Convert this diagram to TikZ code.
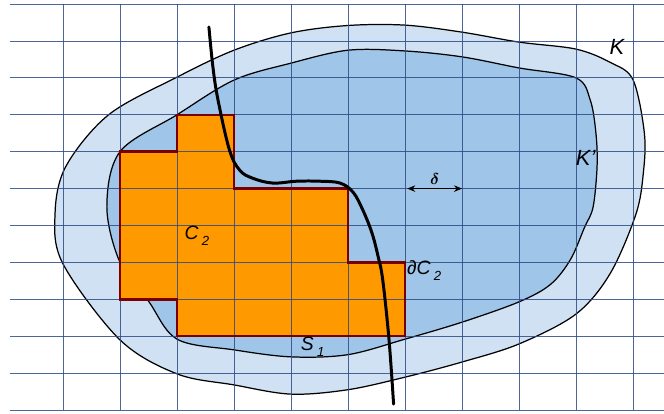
\documentclass[tikz,border=0pt]{standalone}
\usepackage{fontspec}
\usepackage{amsmath}
\setmainfont{Liberation Sans}
\usepackage{tikz}
\usetikzlibrary{arrows.meta}

\definecolor{gridblue}{RGB}{46,74,133}
\definecolor{outerblue}{RGB}{207,225,242}
\definecolor{innerblue}{RGB}{159,197,232}
\definecolor{cellorange}{RGB}{255,153,0}
\definecolor{celledge}{RGB}{122,0,0}
\newcommand{\lsub}[1]{\,\raisebox{-0.32em}{\fontsize{7.5}{8}\selectfont #1}}

\begin{document}
\begin{tikzpicture}[
    x=1.14cm, y=0.738cm,
    gridline/.style={draw=gridblue, line width=0.55pt, opacity=0.85},
    region/.style={draw=black, line width=0.7pt},
    cellfill/.style={fill=cellorange},
    celledgeline/.style={draw=celledge, line width=1.4pt, line join=miter},
    curvebold/.style={draw=black, line width=1.7pt, line cap=round},
    lbl/.style={font=\fontsize{11}{13}\selectfont\itshape, inner sep=1pt},
    biglbl/.style={font=\fontsize{12.5}{14}\selectfont\itshape, inner sep=1pt},
    arrow/.style={{Stealth[length=1.6mm, width=1.3mm]}-{Stealth[length=1.6mm, width=1.3mm]}, line width=0.6pt},
]
\useasboundingbox (-1.105,-0.108) rectangle (10.544,11.111);

\path[region, fill=outerblue] plot[smooth cycle, tension=0.55] coordinates {
    (-0.14,5.3) (0.05,6.6) (0.8,8.0) (2.0,9.02) (3.0,9.75) (4.0,10.22) (5.0,10.42)
    (6.0,10.43) (7.0,10.24) (8.0,9.97) (9.0,9.78) (9.6,9.42) (10.0,8.95) (10.2,7.5)
    (10.18,6.4) (10.05,5.3) (9.6,3.7) (9.0,2.6) (8.0,1.79) (7.0,1.3) (6.0,0.89)
    (5.0,0.55) (4.0,0.43) (3.0,0.68) (2.0,0.98) (1.0,1.9) (0.0,3.96)};
\path[region, fill=innerblue] plot[smooth cycle, tension=0.55] coordinates {
    (0.77,5.5) (1.0,7.0) (2.0,8.0) (3.0,8.94) (4.0,9.4) (5.0,9.75) (6.0,9.73)
    (7.0,9.57) (8.0,9.27) (9.0,9.0) (9.25,8.4) (9.35,7.5) (9.37,6.6) (9.3,5.5)
    (9.15,4.95) (8.9,4.07) (8.55,3.4) (8.0,2.93) (7.0,2.38) (6.0,1.92) (5.0,1.5)
    (4.0,1.44) (3.0,1.63) (2.0,1.92) (1.5,2.95) (1.0,4.0)};

\path[cellfill] (1,7) -- (2,7) -- (2,8) -- (3,8) -- (3,6) -- (5,6) -- (5,4) -- (6,4)
    -- (6,2) -- (2,2) -- (2,3) -- (1,3) -- cycle;

\foreach \y in {0,...,11}
    \draw[gridline] (-0.93,\y) -- (10.544,\y);
\foreach \x in {0,...,10}
    \draw[gridline] (\x,0) -- (\x,11);

\draw[celledgeline] (1,7) -- (2,7) -- (2,8) -- (3,8) -- (3,6) -- (5,6) -- (5,4) -- (6,4)
    -- (6,2) -- (2,2) -- (2,3) -- (1,3) -- cycle;

\draw[curvebold] plot[smooth, tension=0.6] coordinates {
    (2.56,10.38) (2.63,9.3) (2.72,8.4) (2.92,7.05) (3.1,6.5) (3.33,6.28) (3.68,6.15)
    (4.1,6.2) (4.5,6.2) (4.86,6.15) (5.09,5.9) (5.26,5.42) (5.42,4.8) (5.53,4.15)
    (5.61,3.52) (5.72,1.9) (5.8,0.16)};

\coordinate (d1) at (6.04,6);
\coordinate (d2) at (7.0,6);
\draw[arrow] (d1) -- (d2) node[midway, above=1pt, inner sep=1pt, font=\fontsize{9}{10}\selectfont] (dlbl) {$\boldsymbol{\delta}$};

\node[biglbl] (k) at (9.72,9.84) {K};
\node[biglbl] (kp) at (9.17,6.83) {K’};
\node[lbl] (c2) at (2.35,4.72) {C\lsub{2}};
\node[lbl, anchor=west] (dc2) at (6.0,3.78) {∂C\lsub{2}};
\node[lbl] (s1) at (4.38,1.72) {S\lsub{1}};
\end{tikzpicture}
\end{document}
